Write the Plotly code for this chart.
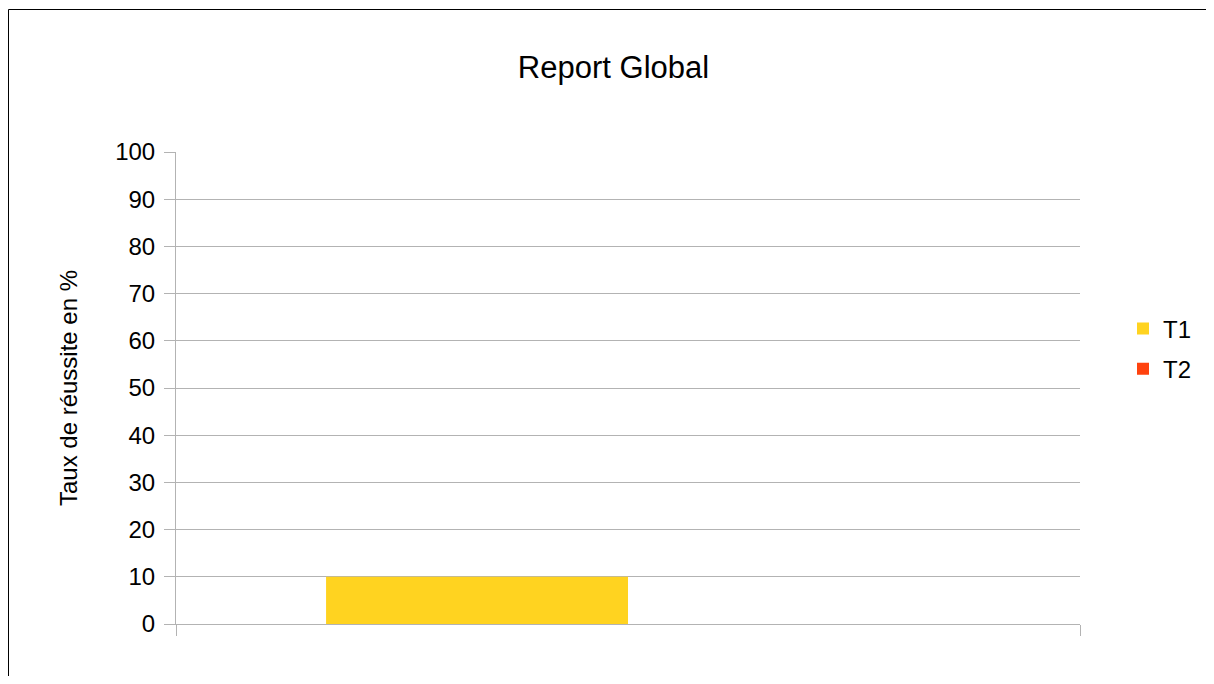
import plotly.graph_objects as go

categories = [" "]
t1_values = [10]
t2_values = [0]
y_ticks = [0, 10, 20, 30, 40, 50, 60, 70, 80, 90, 100]
colors = {"T1": "#FFD320", "T2": "#FF420E"}

FONT = "Liberation Sans, Arial, sans-serif"
OFF = 8  # page body margin offset

fig = go.Figure()
fig.add_trace(go.Bar(x=categories, y=t1_values, name="T1", legendgroup="g1",
                     marker_color=colors["T1"], marker_line_width=0))
fig.add_trace(go.Bar(x=categories, y=t2_values, name="T2", legendgroup="g2",
                     marker_color=colors["T2"], marker_line_width=0))

W, H = 1206, 668
L, T = 176 - OFF, 152 - OFF
R = W - (1080 - OFF)
B = H - (624 - OFF)
pw = W - L - R
ph = H - T - B

def px_x(px):
    return (px - OFF - L) / pw

def px_y(py):
    return (H - B - (py - OFF)) / ph

fig.update_layout(
    width=W, height=H,
    margin=dict(l=L, r=R, t=T, b=B, autoexpand=False),
    paper_bgcolor="white", plot_bgcolor="white",
    font=dict(family=FONT, color="black", size=24),
    title=dict(text="Report Global", x=(613.5 - OFF) / W, xanchor="center",
               y=1 - (67 - OFF) / H, yref="container", yanchor="middle",
               font=dict(family=FONT, size=31, color="black")),
    barmode="group", bargap=0.332, bargroupgap=0,
    showlegend=True,
    legend=dict(x=px_x(1123), y=px_y(349), xanchor="left", yanchor="middle",
                font=dict(family=FONT, size=24, color="black"),
                traceorder="grouped", tracegroupgap=6,
                bgcolor="rgba(0,0,0,0)"),
    xaxis=dict(type="category", showgrid=True, gridcolor="#b3b3b3", gridwidth=1,
               tickson="boundaries", ticks="outside", ticklen=11, tickcolor="#b3b3b3",
               showticklabels=False, showline=True, linecolor="#b3b3b3", linewidth=1,
               zeroline=False, range=[-0.5, 0.5], fixedrange=True),
    yaxis=dict(range=[0, 100], tickvals=y_ticks, ticktext=[str(v) for v in y_ticks],
               showgrid=True, gridcolor="#b3b3b3", gridwidth=1,
               ticks="outside", ticklen=11, tickcolor="#b3b3b3", ticklabelstandoff=4,
               showline=True, linecolor="#b3b3b3", linewidth=1, zeroline=False,
               tickfont=dict(family=FONT, size=24, color="black"),
               title=dict(text="Taux de réussite en %", standoff=30,
                          font=dict(family=FONT, size=24, color="black"))),
    shapes=[
        dict(type="line", xref="paper", yref="paper",
             x0=px_x(8.5), x1=px_x(1300), y0=px_y(9.5), y1=px_y(9.5),
             line=dict(color="black", width=1), layer="above"),
        dict(type="line", xref="paper", yref="paper",
             x0=px_x(8.5), x1=px_x(8.5), y0=px_y(9.5), y1=px_y(800),
             line=dict(color="black", width=1), layer="above"),
    ],
)

fig.write_html("out.html")
